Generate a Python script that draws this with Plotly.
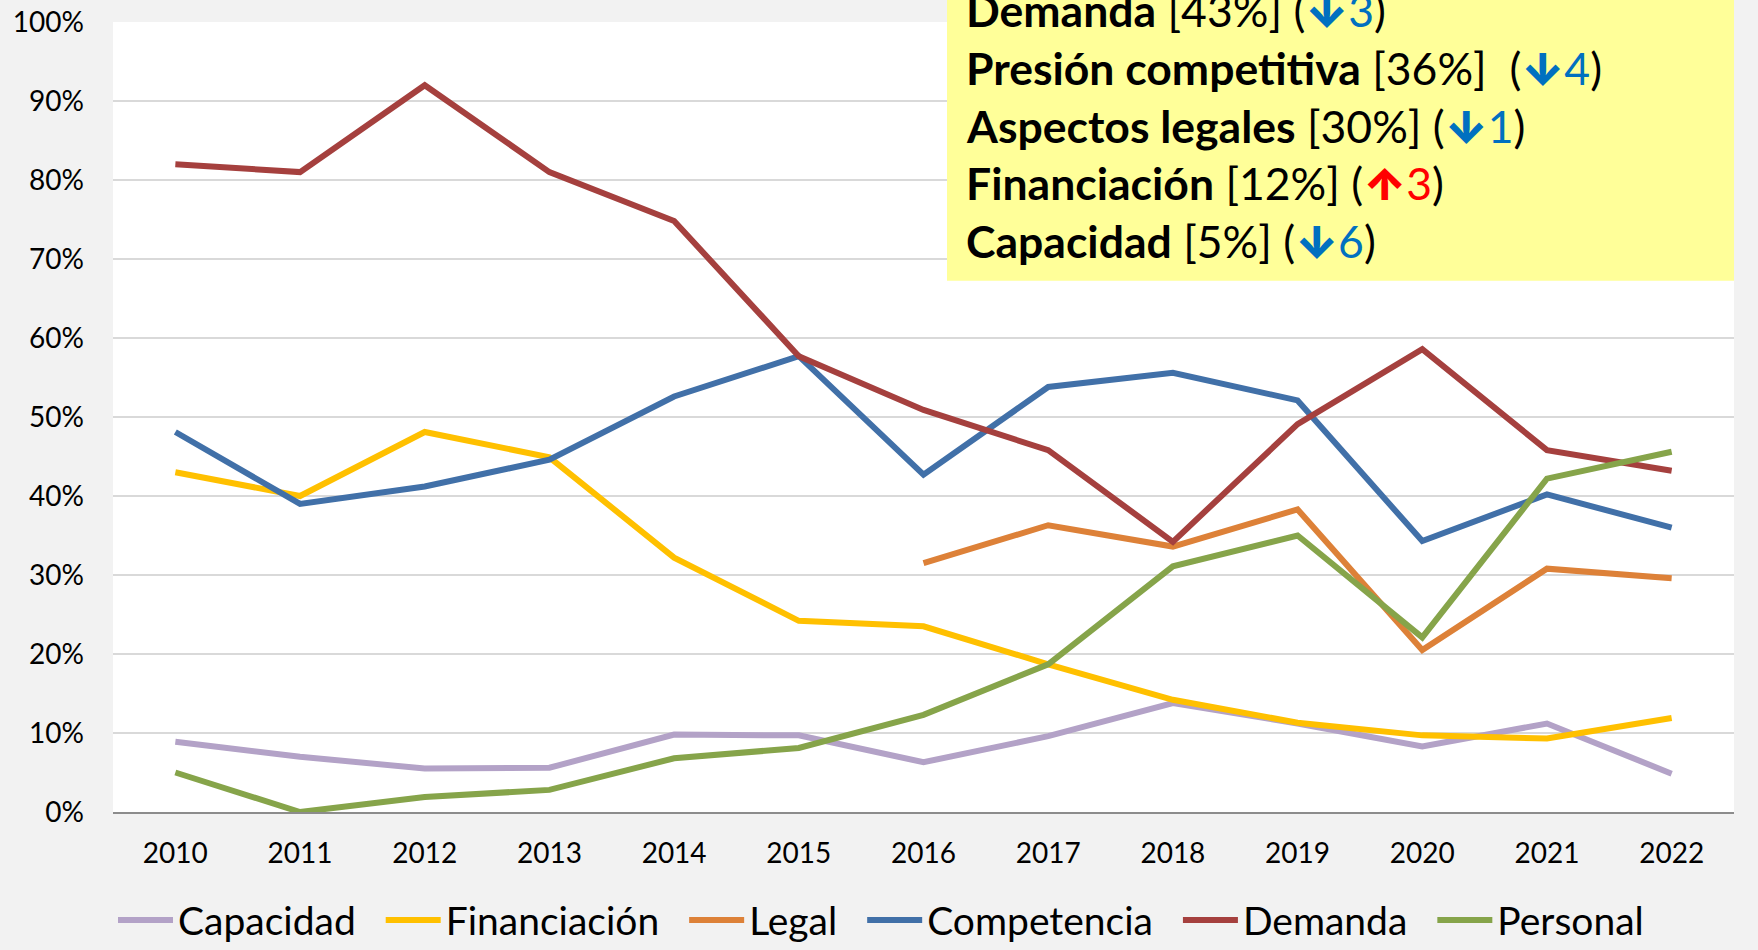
import plotly.graph_objects as go

years = [str(y) for y in range(2010, 2023)]

capacidad = [8.9, 7.0, 5.5, 5.6, 9.8, 9.7, 6.3, 9.6, 13.8, 11.2, 8.3, 11.2, 4.85]
financiacion = [43.0, 40.0, 48.1, 44.9, 32.2, 24.2, 23.5, 18.7, 14.2, 11.3, 9.7, 9.3, 11.9]
legal = [None, None, None, None, None, None, 31.5, 36.3, 33.6, 38.3, 20.5, 30.8, 29.6]
competencia = [48.1, 39.0, 41.2, 44.6, 52.6, 57.7, 42.7, 53.8, 55.6, 52.1, 34.3, 40.2, 36.0]
demanda = [82.0, 81.0, 92.0, 81.0, 74.8, 57.7, 50.9, 45.8, 34.2, 49.1, 58.6, 45.8, 43.2]
personal = [5.0, 0.0, 1.9, 2.8, 6.8, 8.1, 12.3, 18.7, 31.1, 35.0, 22.1, 42.2, 45.6]

series_names = ["Capacidad", "Financiación", "Legal", "Competencia", "Demanda", "Personal"]
series_values = [capacidad, financiacion, legal, competencia, demanda, personal]
series_colors = ["#B3A2C7", "#FFC000", "#DD8138", "#4170A8", "#A5403E", "#86A44A"]

box_lines = [
    ("Demanda", "[43%]", "↓", "3", "#0070C0"),
    ("Presión competitiva", "[36%] ", "↓", "4", "#0070C0"),
    ("Aspectos legales", "[30%]", "↓", "1", "#0070C0"),
    ("Financiación", "[12%]", "↑", "3", "#FF0000"),
    ("Capacidad", "[5%]", "↓", "6", "#0070C0"),
]

FONT = "Lato"
NB = "\u00a0"

fig = go.Figure()
for name, vals, col in zip(series_names, series_values, series_colors):
    fig.add_trace(go.Scatter(
        x=years, y=[v / 100 if v is not None else None for v in vals],
        mode="lines", name=name + NB * 2,
        line=dict(color=col, width=6),
        connectgaps=False,
    ))

# end labels
for name, vals in zip(series_names, series_values):
    v = vals[-1]
    ysh = 12 if name == "Personal" else 0
    xsh = 10 if name == "Personal" else 23
    fig.add_annotation(
        x=years[-1], y=v / 100, xref="x", yref="y",
        text=f"{v:.0f}%", showarrow=False, xanchor="left", yanchor="middle",
        xshift=xsh, yshift=ysh, font=dict(family=FONT, size=24, color="#000000"),
    )

# yellow box
fig.add_shape(type="rect", xref="paper", yref="paper",
              x0=0.5145, x1=1.0, y0=0.6725, y1=1.05,
              fillcolor="#FFFF99", line=dict(width=0), layer="above")

line_centers = [10.6, 68.3, 126, 183.6, 241.4]  # pixel from top
for (bold, pct, arrow, num, col), yc in zip(box_lines, line_centers):
    txt = (f"<b>{bold}</b> {pct} (<span style='color:{col}'>"
           f"<span style='font-family:Inter;font-weight:900'>{arrow}</span>{num}</span>)")
    fig.add_annotation(
        x=(964 - 113) / 1621, y=(812 - yc) / 790, xref="paper", yref="paper",
        text=txt, showarrow=False, xanchor="left", yanchor="middle",
        font=dict(family=FONT, size=44.5, color="#000000"),
    )

fig.update_layout(
    width=1758, height=950,
    paper_bgcolor="#F2F2F2", plot_bgcolor="#FFFFFF",
    margin=dict(l=113, r=24, t=22, b=138, autoexpand=False),
    font=dict(family=FONT, color="#000000"),
    showlegend=True,
    legend=dict(orientation="h", x=0, xanchor="left", y=-0.137, yanchor="middle",
                font=dict(family=FONT, size=39, color="#000000"),
                bgcolor="rgba(0,0,0,0)", itemwidth=55),
    xaxis=dict(type="category", range=[-0.5, 12.5], showgrid=False, automargin=False,
               showline=True, linecolor="#8C8C8C", linewidth=1.5,
               ticks="", tickfont=dict(family=FONT, size=28, color="#000000"),
               ticklabelstandoff=16),
    yaxis=dict(range=[0, 1], dtick=0.1, tickformat=".0%", showgrid=True, automargin=False,
               gridcolor="#D9D9D9", gridwidth=1.5, zeroline=False, showline=False,
               ticks="", tickfont=dict(family=FONT, size=28, color="#000000"),
               ticklabelstandoff=28),
)

fig.write_html("out.html", config={"displayModeBar": False},
               post_script="document.body.style.margin='0';")
